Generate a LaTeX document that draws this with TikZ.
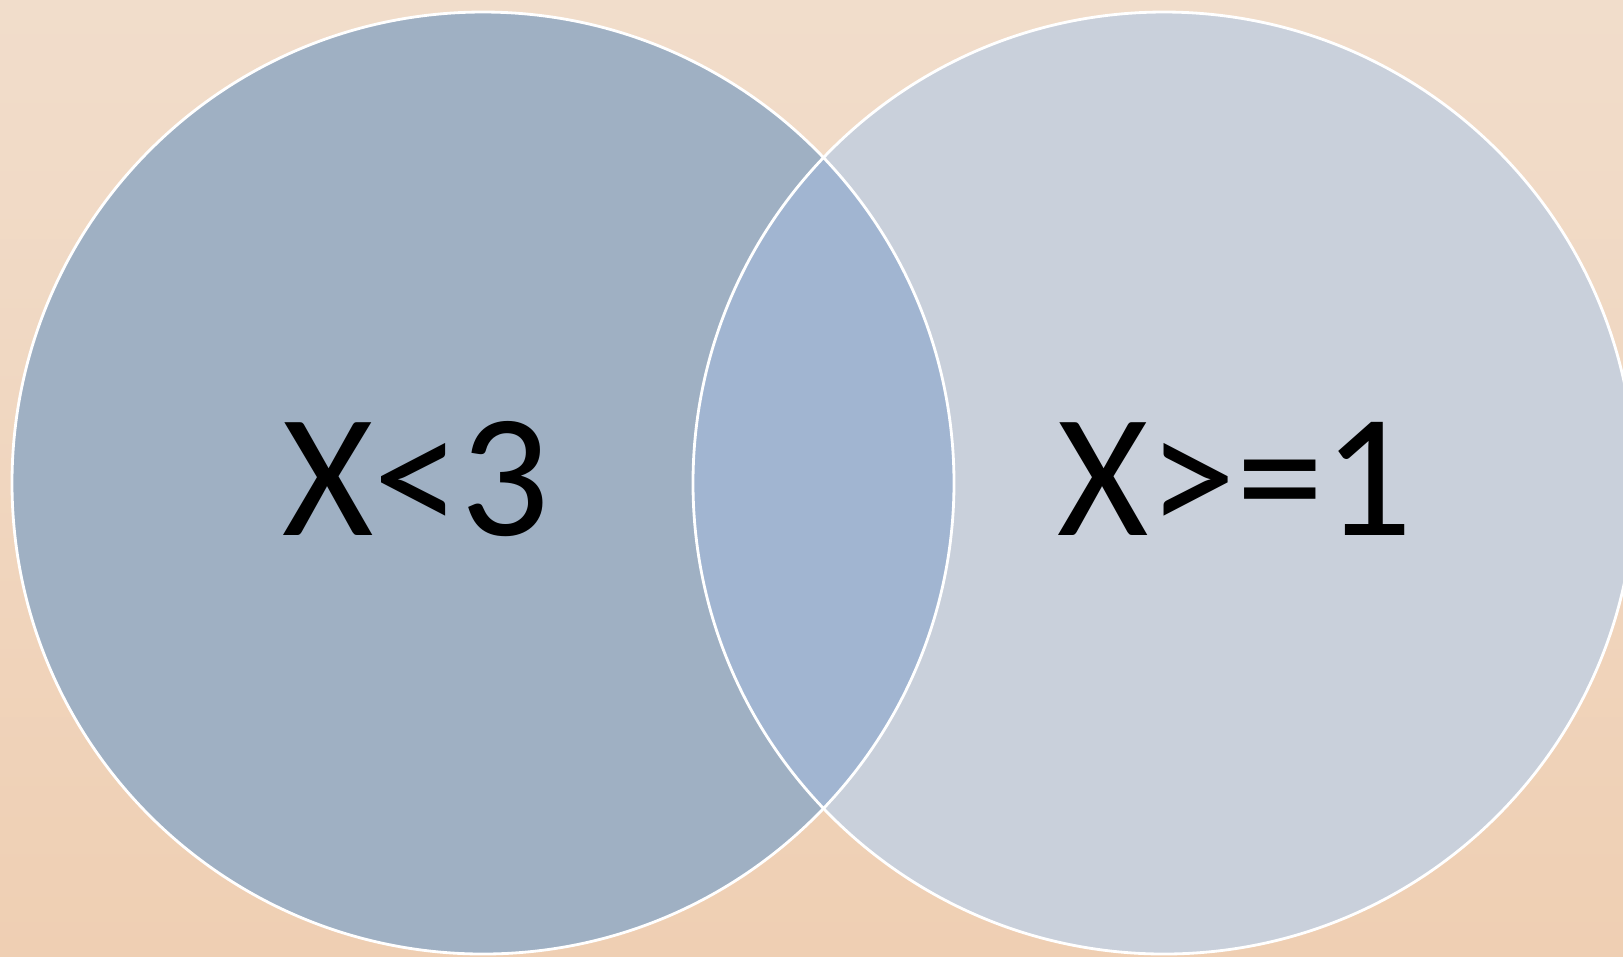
\documentclass[tikz,border=0pt]{standalone}
\usepackage{fontspec}
\setmainfont{Carlito}
\usetikzlibrary{positioning}

\definecolor{backpeach}{HTML}{EFCFB3}
\definecolor{backpale}{HTML}{F1DDCB}
\definecolor{leftset}{HTML}{9FB0C3}
\definecolor{rightset}{HTML}{C9D0DB}
\definecolor{bothset}{HTML}{A1B5D1}

\tikzset{
  setlabel/.style={font=\fontsize{50}{60}\selectfont, text=black, inner sep=0pt},
  setrim/.style={draw=white, line width=0.8pt}
}

\begin{document}
\begin{tikzpicture}[x=0.01cm, y=-0.01cm]
			\useasboundingbox (0,0) rectangle (1623,956);
			\clip (0,0) rectangle (1623,956);
			\shade[top color=backpale, bottom color=backpeach] (0,0) rectangle (1623,956);
			\fill[leftset] (483,483) circle (471);
			\fill[rightset] (1164,483) circle (471);
			\begin{scope}
				\clip (483,483) circle (471);
				\fill[bothset] (1164,483) circle (471);
			\end{scope}
			\draw[setrim] (483,483) circle (471);
			\draw[setrim] (1164,483) circle (471);
			\node[setlabel] (less) at (416,479) {X<3};
			\node[setlabel] (more) at (1235,479) {X>=1};
		\end{tikzpicture}
\end{document}
